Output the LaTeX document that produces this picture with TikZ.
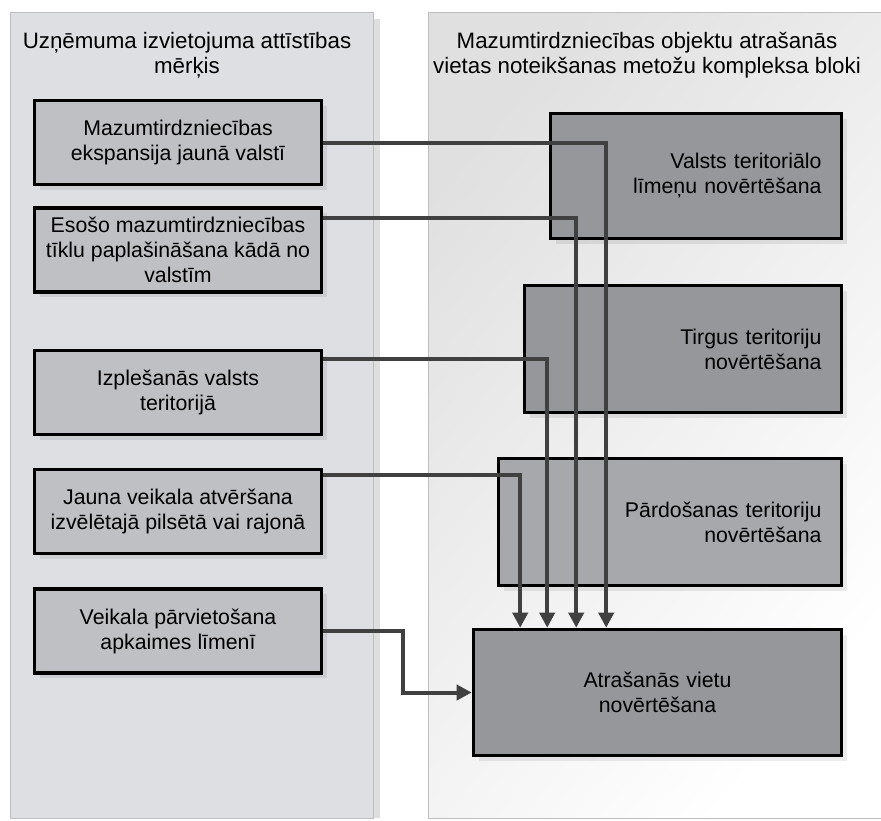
\documentclass[tikz,border=0pt]{standalone}
\usepackage{fontspec}
\setmainfont{Liberation Sans}
\usetikzlibrary{
    arrows.meta,
    shadows,
    positioning
}
\definecolor{panelgray}{RGB}{222,223,226}
\definecolor{paneledge}{RGB}{190,190,192}
\definecolor{goalgray}{RGB}{191,192,196}
\definecolor{blockgray}{RGB}{150,151,155}
\definecolor{blocklight}{RGB}{167,168,172}
\definecolor{linkgray}{RGB}{64,64,64}
\newcommand{\boxfont}{\fontsize{21.3}{25}\selectfont}
\newcommand{\paneltitlefont}{\fontsize{22.3}{25}\selectfont}

\begin{document}
\begin{tikzpicture}[x=1pt, y=-1pt,
    boxshadow/.style={drop shadow={shadow xshift=5pt, shadow yshift=-5pt, fill=black, opacity=0.08}},
    goal/.style={draw=black, line width=3.6pt, fill=goalgray, minimum width=287pt, minimum height=84pt, inner sep=0pt, align=center, font=\boxfont, boxshadow},
    block/.style={draw=black, line width=3.6pt, fill=blockgray, inner xsep=20pt, inner ysep=0pt, align=right, font=\boxfont, boxshadow},
    link/.style={draw=linkgray, line width=4pt},
    arr/.style={link, -{Triangle[length=15pt, width=15pt]}}]
    \useasboundingbox (0, 0) rectangle (881, 820);

    % panels
    \fill[black!13] (17, 19) rectangle (380, 818);
    \draw[paneledge, fill=panelgray] (10, 12) rectangle (373, 818);
    \shade[shading=axis, top color=black!12, bottom color=white, shading angle=50] (428, 12) rectangle (881, 818);
    \draw[paneledge] (890, 12) -- (428, 12) -- (428, 818) -- (890, 818);

    \node[font=\paneltitlefont, align=center] (lefttitle) at (187, 55) {Uzņēmuma izvietojuma attīstības\\mērķis};
    \node[font=\paneltitlefont, align=center] (righttitle) at (647, 55) {Mazumtirdzniecības objektu atrašanās\\vietas noteikšanas metožu kompleksa bloki};

    % goals
    \node[goal] (g1) at (178, 142.5) {Mazumtirdzniecības\\ekspansija jaunā valstī};
    \node[goal] (g2) at (178, 250) {Esošo mazumtirdzniecības\\tīklu paplašināšana kādā no\\valstīm};
    \node[goal] (g3) at (178, 392.5) {Izplešanās valsts\\teritorijā};
    \node[goal] (g4) at (178, 511.5) {Jauna veikala atvēršana\\izvēlētajā pilsētā vai rajonā};
    \node[goal] (g5) at (178, 631) {Veikala pārvietošana\\apkaimes līmenī};

    % blocks
    \node[block, text width=251pt, minimum height=125pt] (val) at (696, 176) {Valsts teritoriālo\\līmeņu novērtēšana};
    \node[block, text width=277pt, minimum height=127pt] (tir) at (683, 349) {Tirgus teritoriju\\novērtēšana};
    \node[block, fill=blocklight, text width=303pt, minimum height=127pt] (par) at (670, 522) {Pārdošanas teritoriju\\novērtēšana};
    \node[block, align=center, text width=328pt, minimum height=126pt] (atr) at (657.5, 692.5) {Atrašanās vietu\\novērtēšana};

    \draw[arr] (g1.east) -| ([xshift=134.5pt]atr.north west);
    \draw[arr] ([yshift=-12pt]g2.north east) -| ([xshift=104.5pt]atr.north west);
    \draw[arr] ([yshift=-10.5pt]g3.north east) -| ([xshift=75.5pt]atr.north west);
    \draw[arr] ([yshift=-7pt]g4.north east) -| ([xshift=48.5pt]atr.north west);
    \draw[arr] (g5.east) -- ++(80, 0) |- (atr.west);
\end{tikzpicture}
\end{document}
